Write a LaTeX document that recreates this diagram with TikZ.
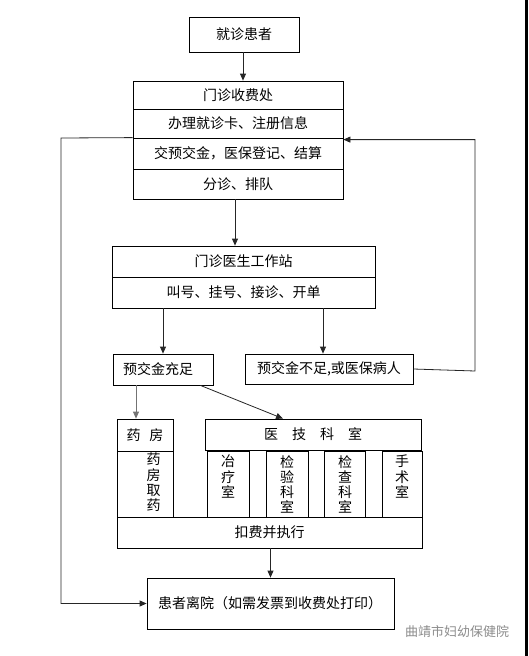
\documentclass[tikz,border=0pt]{standalone}
\usepackage{fontspec}
\usepackage{tikz}
\usetikzlibrary{arrows.meta}
\newfontfamily\cjk{Noto Sans CJK SC}

\begin{document}
\begin{tikzpicture}[x=1pt,y=-1pt,
  box/.style={draw=black,line width=0.8pt,inner sep=0pt,font=\cjk\fontsize{14}{16}\selectfont},
  vtext/.style={anchor=north,inner sep=0pt,align=center,font=\cjk\fontsize{14}{15.2}\selectfont},
  link/.style={draw=black!85,line width=0.8pt,-{Triangle[length=7pt,width=6pt]}}]
\useasboundingbox (0,0) rectangle (528,656);
% boxes at the top:
\node[box,minimum width=110pt,minimum height=35pt] (patient) at (244,34.5) {就诊患者};
\node[box,minimum width=210pt,minimum height=28pt] (fee1) at (238,95) {门诊收费处};
\node[box,minimum width=210pt,minimum height=29pt] (fee2) at (238,123.5) {办理就诊卡、注册信息};
\node[box,minimum width=210pt,minimum height=31pt] (fee3) at (238,153.5) {交预交金，医保登记、结算};
\node[box,minimum width=210pt,minimum height=30pt] (fee4) at (238,184) {分诊、排队};
\node[box,minimum width=263pt,minimum height=31pt] (doc1) at (243.5,261.5) {门诊医生工作站};
\node[box,minimum width=263pt,minimum height=31pt] (doc2) at (243.5,292.5) {叫号、挂号、接诊、开单};
\node[box,minimum width=100pt,minimum height=31pt,text width=80pt,inner xsep=10pt,align=left] (enough) at (163,369.5) {预交金充足};
\node[box,minimum width=168pt,minimum height=30pt] (short) at (329,369) {预交金不足,或医保病人};
% departments:
\node[box,minimum width=56pt,minimum height=32pt] (drug) at (145,435) {药\hspace{9pt}房};
\node[box,minimum width=216pt,minimum height=31pt] (tech) at (313,434.5) {医\hspace{14pt}技\hspace{14pt}科\hspace{14pt}室};
\node[box,minimum width=56pt,minimum height=66pt] (pick) at (145,484) {};
\node[box,minimum width=42pt,minimum height=66pt] (treat) at (228,484) {};
\node[box,minimum width=42pt,minimum height=66pt] (lab) at (287,484) {};
\node[box,minimum width=41pt,minimum height=66pt] (exam) at (344.5,484) {};
\node[box,minimum width=40pt,minimum height=66pt] (surg) at (402,484) {};
\node[vtext] (picktext) at (153.5,453) {药\\房\\取\\药};
\node[vtext] (treattext) at (228,455) {冶\\疗\\室};
\node[vtext] (labtext) at (287,455) {检\\验\\科\\室};
\node[vtext] (examtext) at (345,455) {检\\查\\科\\室};
\node[vtext] (surgtext) at (402,455) {手\\术\\室};
\node[box,minimum width=305pt,minimum height=31pt] (exec) at (269.5,532.5) {扣费并执行};
\node[box,minimum width=247pt,minimum height=51pt,text width=225pt,inner xsep=11pt,align=left] (leave) at (270.5,603.5) {患者离院（如需发票到收费处打印）};
% connectors:
\coordinate (lt) at (61,138);
\coordinate (rt) at (475,371);
\draw[link] (patient.south -| 243,0) -- (fee1.north -| 243,0);
\draw[link] ([xshift=-3pt]fee4.south) -- ([xshift=-3pt]fee4.south |- doc1.north);
\draw[link] (enough.north |- doc2.south) -- (enough.north);
\draw[link] ([xshift=-6pt]short.north |- doc2.south) -- ([xshift=-6pt]short.north);
\draw[link] (short.east) -- (rt) |- ([yshift=-2pt]fee3.north east);
\draw[link] (fee3.north west) -- (lt) |- (leave.west);
\draw[link,draw=black!55] ([xshift=-27pt]enough.south) -- ([xshift=-27pt]enough.south |- drug.north);
\draw[link] ([xshift=-13pt]enough.south east) -- ([xshift=-30pt]tech.north);
\draw[link] (leave.north |- exec.south) -- (leave.north);
% mark and edge:
\node[font=\cjk\fontsize{13}{15}\selectfont,text=black!45,inner sep=0pt] (mark) at (457,632) {曲靖市妇幼保健院};
\fill[black] (525,0) rectangle (528,656);
\end{tikzpicture}
\end{document}
